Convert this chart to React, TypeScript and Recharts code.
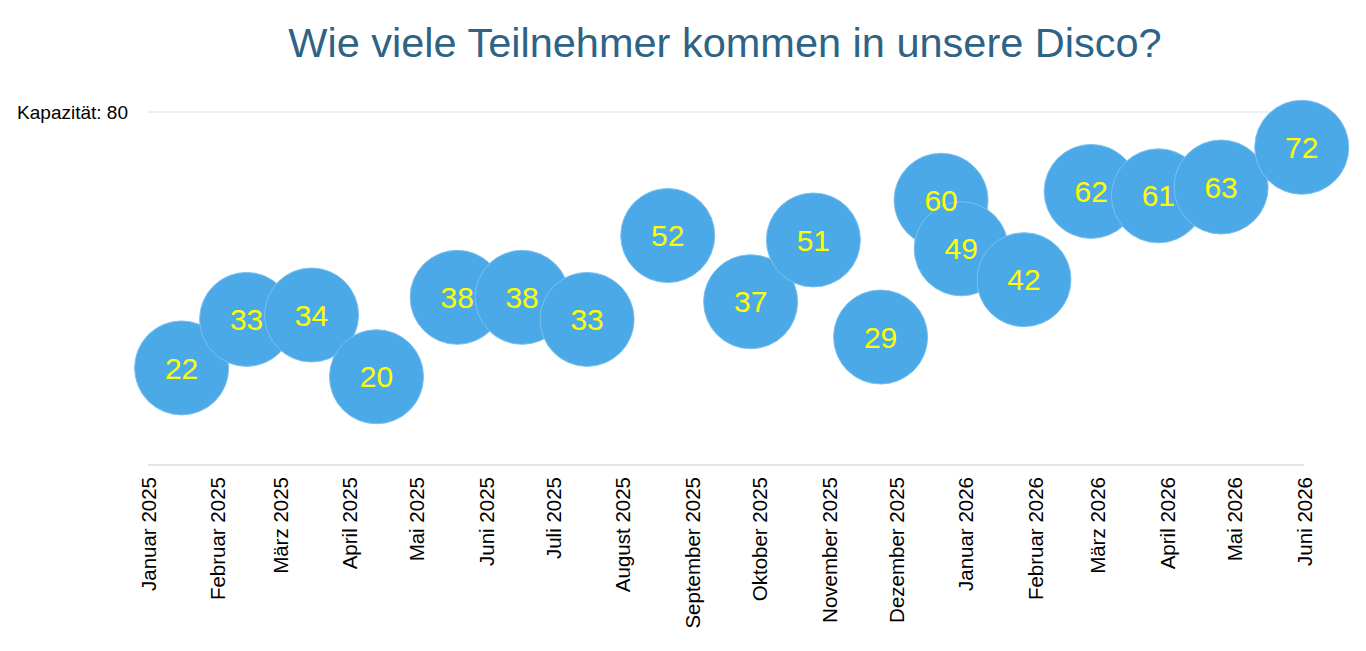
import React from 'react';
import { ScatterChart, Scatter, XAxis, YAxis, CartesianGrid, LabelList } from 'recharts';

const title = 'Wie viele Teilnehmer kommen in unsere Disco?';
const eventDates = [
  '2025-01-16', '2025-02-14', '2025-03-15', '2025-04-13', '2025-05-19', '2025-06-17',
  '2025-07-16', '2025-08-21', '2025-09-27', '2025-10-25', '2025-11-24', '2025-12-21',
  '2025-12-30', '2026-01-27', '2026-02-26', '2026-03-28', '2026-04-25', '2026-05-31',
];
const participants = [22, 33, 34, 20, 38, 38, 33, 52, 37, 51, 29, 60, 49, 42, 62, 61, 63, 72];
const monthStarts = [
  '2025-01-01', '2025-02-01', '2025-03-01', '2025-04-01', '2025-05-01', '2025-06-01',
  '2025-07-01', '2025-08-01', '2025-09-01', '2025-10-01', '2025-11-01', '2025-12-01',
  '2026-01-01', '2026-02-01', '2026-03-01', '2026-04-01', '2026-05-01', '2026-06-01',
];
const monthLabels = [
  'Januar 2025', 'Februar 2025', 'März 2025', 'April 2025', 'Mai 2025', 'Juni 2025',
  'Juli 2025', 'August 2025', 'September 2025', 'Oktober 2025', 'November 2025', 'Dezember 2025',
  'Januar 2026', 'Februar 2026', 'März 2026', 'April 2026', 'Mai 2026', 'Juni 2026',
];
const capacity = 80;
const capacityLabel = 'Kapazität';

const FONT = '"Liberation Sans", Arial, Helvetica, sans-serif';
const monthTicks = monthStarts.map((d) => Date.parse(d));
const data = eventDates.map((d, i) => ({ t: Date.parse(d), y: participants[i] }));

const XTick = (props: any) => {
  const { x, y, payload } = props;
  const idx = monthTicks.indexOf(payload.value);
  const ty = y + 4;
  return (
    <text
      x={x}
      y={ty}
      transform={`rotate(-90, ${x}, ${ty})`}
      textAnchor="end"
      dominantBaseline="central"
      fontSize={20.5}
      fontFamily={FONT}
      fill="#000"
    >
      {monthLabels[idx]}
    </text>
  );
};

const YTick = (props: any) => {
  const { y, payload } = props;
  return (
    <text x={128} y={y} textAnchor="end" dominantBaseline="central" fontSize={19} fontFamily={FONT} fill="#000">
      {`${capacityLabel}: ${payload.value}`}
    </text>
  );
};

const Bubble = (props: any) => {
  const { cx, cy } = props;
  return <circle cx={cx} cy={cy} r={47} fill="#4BA9E7" stroke="#7DC0EE" strokeWidth={1} />;
};

export default function App() {
  return (
    <div style={{ position: 'absolute', left: 0, top: 0, width: 1366, height: 651, background: '#fff' }}>
      <div
        style={{
          position: 'absolute',
          left: 0,
          top: 22,
          width: 1450,
          textAlign: 'center',
          fontFamily: FONT,
          fontSize: 41.5,
          lineHeight: '41.5px',
          color: '#2E6386',
          whiteSpace: 'nowrap',
        }}
      >
        {title}
      </div>
      <ScatterChart width={1366} height={651} margin={{ top: 112, right: 62, bottom: 0, left: 0 }}>
        <CartesianGrid vertical={false} stroke="#E0E0E0" />
        <XAxis
          type="number"
          dataKey="t"
          domain={[monthTicks[0], monthTicks[monthTicks.length - 1]]}
          ticks={monthTicks}
          interval={0}
          height={186}
          tickLine={false}
          axisLine={{ stroke: '#DDDDDD' }}
          tick={<XTick />}
        />
        <YAxis
          type="number"
          dataKey="y"
          domain={[0, capacity]}
          ticks={[capacity]}
          width={148}
          axisLine={false}
          tickLine={false}
          tick={<YTick />}
        />
        <Scatter data={data} shape={<Bubble />} isAnimationActive={false}>
          <LabelList dataKey="y" position="center" fill="#FFFF00" fontSize={30} fontFamily={FONT} />
        </Scatter>
      </ScatterChart>
    </div>
  );
}
